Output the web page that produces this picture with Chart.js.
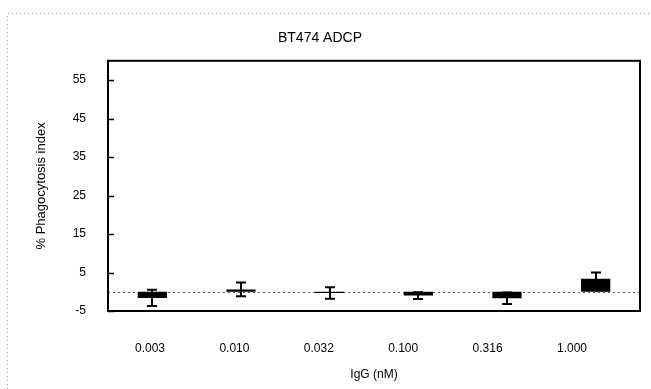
<!DOCTYPE html>
<html>
<head>
<meta charset="utf-8">
<script src="https://cdn.jsdelivr.net/npm/chart.js@4/dist/chart.umd.min.js"></script>
<style>
  html, body { margin: 0; padding: 0; background: #fff; }
  #wrap { position: relative; width: 651px; height: 389px; }
</style>
</head>
<body>
<div id="wrap"><canvas id="c" width="651" height="389"></canvas></div>
<script>
// Antibody concentrations and mean ± SD phagocytosis readings
const concentrations = ['0.003', '0.010', '0.032', '0.100', '0.316', '1.000'];
const meanValues = [-1.6, 0.6, -0.3, -1.0, -1.7, 3.4];
const errorValues = [2.1, 1.8, 1.5, 0.9, 1.5, 1.6];
const yTickValues = [-5, 5, 15, 25, 35, 45, 55];
const xLabelPositions = [0, 1, 2, 3, 4, 5];

const FONT = "'Liberation Sans', Arial, sans-serif";

// Dotted page border, plot frame, zero line, inner y ticks and error bars
const decorations = {
  id: 'decorations',
  beforeDraw(chart) {
    const ctx = chart.ctx;
    ctx.save();
    ctx.strokeStyle = '#9a9a9a';
    ctx.lineWidth = 1;
    ctx.setLineDash([1, 3]);
    ctx.beginPath();
    ctx.moveTo(7.5, chart.height);
    ctx.lineTo(7.5, 13.5);
    ctx.lineTo(chart.width, 13.5);
    ctx.stroke();
    ctx.restore();
  },
  beforeDatasetsDraw(chart) {
    const { ctx, chartArea: a, scales } = chart;
    const y0 = Math.round(scales.y.getPixelForValue(0)) + 0.5;
    ctx.save();
    ctx.strokeStyle = '#555';
    ctx.lineWidth = 1;
    ctx.setLineDash([2, 3]);
    ctx.beginPath();
    ctx.moveTo(a.left, y0);
    ctx.lineTo(a.right, y0);
    ctx.stroke();
    ctx.restore();
  },
  afterDatasetsDraw(chart) {
    const { ctx, chartArea: a, scales } = chart;
    const meta = chart.getDatasetMeta(0);
    ctx.save();
    ctx.strokeStyle = '#000';
    ctx.lineWidth = 2;
    meta.data.forEach((bar, i) => {
      const x = Math.round(bar.x);
      const yt = scales.y.getPixelForValue(meanValues[i] + errorValues[i]);
      const yb = scales.y.getPixelForValue(meanValues[i] - errorValues[i]);
      ctx.beginPath();
      ctx.moveTo(x, yt);
      ctx.lineTo(x, yb);
      ctx.moveTo(x - 5, yt);
      ctx.lineTo(x + 5, yt);
      ctx.moveTo(x - 5, yb);
      ctx.lineTo(x + 5, yb);
      ctx.stroke();
    });
    // frame around the plot area
    ctx.lineWidth = 2;
    ctx.strokeRect(a.left, a.top, a.right - a.left, a.bottom - a.top);
    // short tick marks pointing into the plot
    ctx.lineWidth = 1.5;
    yTickValues.forEach(v => {
      const py = Math.round(scales.y.getPixelForValue(v)) + 0.5;
      ctx.beginPath();
      ctx.moveTo(a.left, py);
      ctx.lineTo(a.left + 6, py);
      ctx.stroke();
    });
    ctx.restore();
  }
};

new Chart(document.getElementById('c'), {
  type: 'bar',
  data: {
    labels: concentrations,
    datasets: [{
      data: meanValues,
      backgroundColor: '#000',
      borderWidth: 0,
      barPercentage: 0.33,
      categoryPercentage: 1.0,
      xAxisID: 'x'
    }]
  },
  options: {
    responsive: false,
    animation: false,
    layout: { padding: { left: 0, right: 11, top: 0, bottom: 0 } },
    plugins: {
      legend: { display: false },
      tooltip: { enabled: false },
      title: {
        display: true,
        text: 'BT474 ADCP',
        color: '#000',
        font: { family: FONT, size: 14, weight: 'normal' },
        padding: { top: 30, bottom: 14 }
      }
    },
    scales: {
      x: {
        type: 'category',
        display: false,
        offset: true
      },
      xl: {
        type: 'linear',
        position: 'bottom',
        offset: false,
        bounds: 'data',
        min: -0.4976,
        max: 5.806,
        afterBuildTicks(scale) {
          scale.ticks = xLabelPositions.map(v => ({ value: v }));
        },
        afterFit(scale) { scale.height = 78; },
        grid: { display: false, drawTicks: false, offset: false },
        border: { display: false },
        ticks: {
          stepSize: 1,
          padding: 30,
          color: '#000',
          font: { family: FONT, size: 12 },
          maxRotation: 0,
          autoSkip: false,
          callback: (v) => concentrations[v]
        },
        title: {
          display: true,
          text: 'IgG (nM)',
          color: '#000',
          font: { family: FONT, size: 12 },
          padding: { top: 0, bottom: 7 }
        }
      },
      y: {
        min: -5,
        max: 60,
        bounds: 'data',
        afterBuildTicks(scale) {
          scale.ticks = yTickValues.map(v => ({ value: v }));
        },
        afterFit(scale) { scale.width = 108; },
        grid: { display: false, drawTicks: false },
        border: { display: false },
        ticks: {
          padding: 22,
          color: '#000',
          font: { family: FONT, size: 12 },
          callback: (v) => String(v)
        },
        title: {
          display: true,
          text: '% Phagocytosis index',
          color: '#000',
          font: { family: FONT, size: 13 },
          padding: { top: 34, bottom: 0 }
        }
      }
    }
  },
  plugins: [decorations]
});
</script>
</body>
</html>
